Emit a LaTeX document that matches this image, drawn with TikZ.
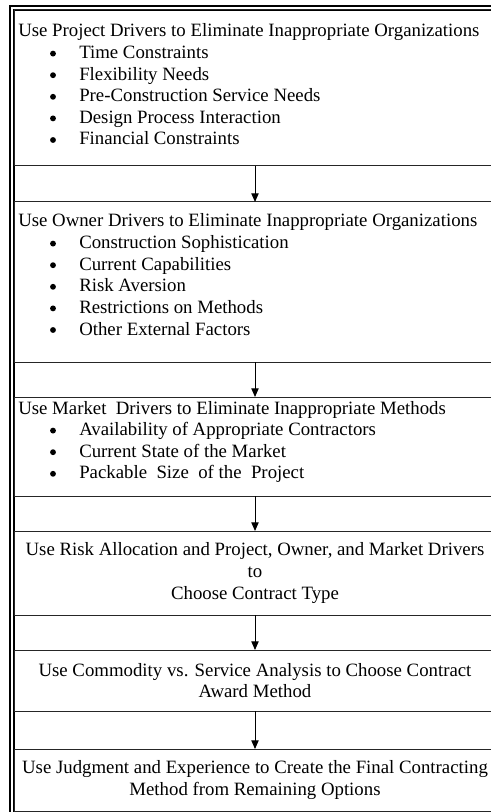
\documentclass[tikz,border=0pt]{standalone}
\usepackage{fontspec}
\setmainfont{Liberation Serif}
\usetikzlibrary{arrows.meta,positioning,calc}
\tikzset{
  stage/.style={draw=black!85,line width=0.75pt,minimum width=361.5pt,inner sep=0pt,outer sep=0pt,anchor=north west},
  head/.style={anchor=base west,inner sep=0pt,font=\fontsize{14.1pt}{16.2pt}\selectfont},
  item/.style={head},
  dot/.style={fill=black},
  mid/.style={align=center,inner sep=0pt,font=\fontsize{14.1pt}{16.2pt}\selectfont},
  flow/.style={line width=0.75pt,-{Triangle[length=6.5pt,width=5.5pt]}}
}

\begin{document}
\begin{tikzpicture}[x=0.75pt,y=-0.75pt]
\useasboundingbox (0,0) rectangle (491,812);
\clip (0,0) rectangle (491,812);
% double frame round the chart
\draw[line width=1pt] (10,6) rectangle (560,900);
\draw[line width=1pt] (14,10) rectangle (556,896);

% the six stages
\node[stage,minimum height=117pt] (b1) at (14,10) {};
\node[stage,minimum height=120pt,below=27pt of b1] (b2) {};
\node[stage,minimum height=74.25pt,below=26.25pt of b2] (b3) {};
\node[stage,minimum height=63pt,below=26.25pt of b3] (b4) {};
\node[stage,minimum height=45.75pt,below=26.25pt of b4] (b5) {};
\node[stage,minimum height=46.5pt,below=28.5pt of b5] (b6) {};

% project drivers
\node[head] (h1) at ($(b1.north west)+(4,27)$) {Use Project Drivers to Eliminate Inappropriate Organizations};
\foreach \t [count=\i] in {Time Constraints,Flexibility Needs,Pre-Construction Service Needs,Design Process Interaction,Financial Constraints}{
  \node[item] (p\i) at ($(h1.base west)+(61,21.6*\i)$) {\t};
  \fill[dot] ($(p\i.base west)+(-26,-5)$) circle[radius=2.2pt];
}

% owner drivers
\node[head] (h2) at ($(b2.north west)+(4,25)$) {Use Owner Drivers to Eliminate Inappropriate Organizations};
\foreach \t [count=\i] in {Construction Sophistication,Current Capabilities,Risk Aversion,Restrictions on Methods,Other External Factors}{
  \node[item] (o\i) at ($(h2.base west)+(61,21.6*\i)$) {\t};
  \fill[dot] ($(o\i.base west)+(-26,-5)$) circle[radius=2.2pt];
}

% market drivers
\node[head] (h3) at ($(b3.north west)+(4,17)$) {Use Market\ \ Drivers to Eliminate Inappropriate Methods};
\foreach \t [count=\i] in {Availability of Appropriate Contractors,Current State of the Market,Packable\ \ Size\ \ of the\ \ Project}{
  \node[item] (m\i) at ($(h3.base west)+(61,21.6*\i)$) {\t};
  \fill[dot] ($(m\i.base west)+(-26,-5)$) circle[radius=2.2pt];
}

% remaining stages
\node[mid] (c4) at (b4) {Use Risk Allocation and Project, Owner, and Market Drivers\\to\\Choose Contract Type};
\node[mid] (c5) at (b5) {Use Commodity vs. Service Analysis to Choose Contract\\Award Method};
\node[mid] (c6) at (b6) {Use Judgment and Experience to Create the Final Contracting\\Method from Remaining Options};

\draw[flow] (b1) -- (b2);
\draw[flow] (b2) -- (b3);
\draw[flow] (b3) -- (b4);
\draw[flow] (b4) -- (b5);
\draw[flow] (b5) -- (b6);
\end{tikzpicture}
\end{document}
